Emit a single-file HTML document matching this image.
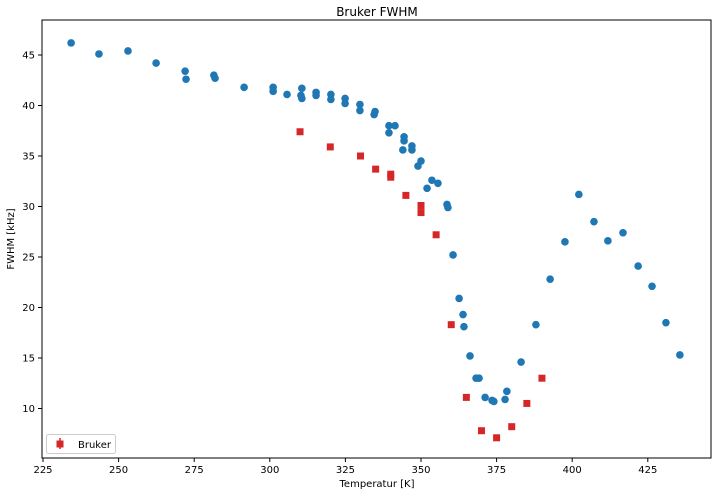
<!DOCTYPE html>
<html><head><meta charset="utf-8"><style>
body{margin:0;background:#fff;font-family:"Liberation Sans","DejaVu Sans",sans-serif;}
svg text{font-family:"DejaVu Sans","Liberation Sans",sans-serif;}
</style></head><body>
<svg id="c" width="721" height="496" xmlns="http://www.w3.org/2000/svg"></svg>
<script>
const blueT=[234.3,243.5,253.1,262.4,272.0,272.3,281.5,281.9,291.5,301.1,301.1,305.7,310.6,310.3,310.6,315.3,315.3,320.2,320.2,324.9,324.9,329.8,329.8,334.5,334.8,339.4,341.4,339.4,344.4,344.4,344.0,347.0,347.0,350.0,349.0,353.6,355.6,352.0,358.6,358.9,360.6,392.7,362.6,363.9,364.2,388.0,366.2,383.1,368.2,369.2,378.4,371.2,373.5,374.1,377.8,397.6,402.2,407.2,411.8,416.8,421.8,426.4,431.0,435.6];
const blueF=[46.2,45.1,45.4,44.2,43.4,42.6,43.0,42.7,41.8,41.8,41.4,41.1,41.7,41.0,40.7,41.3,41.0,41.1,40.6,40.7,40.2,40.1,39.5,39.1,39.4,38.0,38.0,37.3,36.9,36.5,35.6,36.0,35.6,34.5,34.0,32.6,32.3,31.8,30.2,29.9,25.2,22.8,20.9,19.3,18.1,18.3,15.2,14.6,13.0,13.0,11.7,11.1,10.8,10.7,10.9,26.5,31.2,28.5,26.6,27.4,24.1,22.1,18.5,15.3];
const redT=[310,320,330,335,340,340,345,350,350,355,360,365,370,375,380,385,390];
const redF=[37.4,35.9,35.0,33.7,33.2,32.9,31.1,30.1,29.4,27.2,18.3,11.1,7.8,7.1,8.2,10.5,13.0];
const xTicks=[225,250,275,300,325,350,375,400,425];
const yTicks=[10,15,20,25,30,35,40,45];
const L=42,R=711,T=20,B=458;
const x=v=>43+(v-225)*3.024;
const y=v=>55-(v-45)*10.1;
const s=document.getElementById('c');
const NS='http://www.w3.org/2000/svg';
function mk(t,a,p){const e=document.createElementNS(NS,t);for(const k in a)e.setAttribute(k,a[k]);(p||s).appendChild(e);return e;}
let e=mk('rect',{x:L,y:T,width:R-L,height:B-T,fill:'none',stroke:'#000','stroke-width':1});


e=mk('text',{x:377,y:16,'text-anchor':'middle','font-size':12});e.textContent='Bruker FWHM';


xTicks.forEach(v=>{mk('line',{x1:x(v),x2:x(v),y1:B,y2:B+4,stroke:'#000'});
 e=mk('text',{x:x(v),y:B+15,'text-anchor':'middle','font-size':10});e.textContent=v;
 
 });
yTicks.forEach(v=>{mk('line',{x1:L-4,x2:L,y1:y(v),y2:y(v),stroke:'#000'});
 e=mk('text',{x:L-7,y:y(v)+3.5,'text-anchor':'end','font-size':10});e.textContent=v;
 
 });
e=mk('text',{x:377,y:487,'text-anchor':'middle','font-size':10});e.textContent='Temperatur [K]';


e=mk('text',{x:14,y:239,'text-anchor':'middle','font-size':10,transform:'rotate(-90 14 239)'});e.textContent='FWHM [kHz]';


blueT.forEach((t,i)=>{e=mk('circle',{cx:x(t),cy:y(blueF[i]),r:3.8,fill:'#1f77b4'});
 
 });
redT.forEach((t,i)=>{e=mk('rect',{x:x(t)-3.5,y:y(redF[i])-3.5,width:7,height:7,fill:'#d62728'});
 
 });
e=mk('rect',{x:46.5,y:434.5,width:69,height:19,rx:2,fill:'#fff',stroke:'#ccc'});


mk('line',{x1:60,x2:60,y1:438,y2:449,stroke:'#d62728','stroke-width':1.5});
mk('rect',{x:56.5,y:440.5,width:7,height:7,fill:'#d62728'});
e=mk('text',{x:78,y:448,'font-size':10});e.textContent='Bruker';


</script>
</body></html>
